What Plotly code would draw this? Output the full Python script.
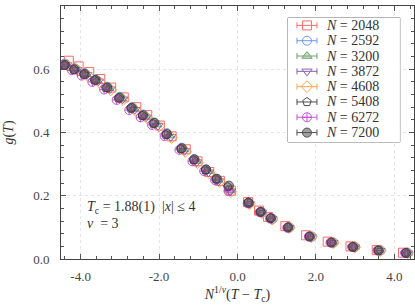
import plotly.graph_objects as go

# ---------------- data ----------------
labels = ["2048", "2592", "3200", "3872", "4608", "5408", "6272", "7200"]

x_2048 = [-4.30, -4.05, -3.78, -3.50, -3.22, -2.90, -2.58, -2.30, -1.98, -1.68, -1.32, -1.02, -0.72, -0.45, -0.17, 0.27, 0.55, 0.78, 1.22, 1.75, 2.30, 2.88, 3.55, 4.22]
y_2048 = [0.627, 0.609, 0.591, 0.569, 0.542, 0.511, 0.480, 0.455, 0.422, 0.388, 0.347, 0.309, 0.275, 0.247, 0.216, 0.180, 0.153, 0.133, 0.104, 0.075, 0.055, 0.040, 0.028, 0.020]

x_2592 = [-4.40, -4.15, -3.90, -3.62, -3.33, -3.00, -2.68, -2.40, -2.12, -1.80, -1.42, -1.10, -0.80, -0.52, -0.22, 0.30, 0.63, 0.90, 1.33, 1.90, 2.45, 3.00, 3.65, 4.35]
y_2592 = [0.618, 0.603, 0.588, 0.568, 0.545, 0.513, 0.480, 0.457, 0.432, 0.398, 0.352, 0.316, 0.283, 0.252, 0.219, 0.177, 0.148, 0.127, 0.100, 0.071, 0.052, 0.038, 0.027, 0.019]

x_3200 = [-4.38, -4.12, -3.86, -3.58, -3.28, -2.96, -2.64, -2.35, -2.06, -1.74, -1.38, -1.06, -0.76, -0.50, -0.19, 0.29, 0.60, 0.86, 1.30, 1.86, 2.42, 2.97, 3.62, 4.32]
y_3200 = [0.615, 0.600, 0.584, 0.565, 0.540, 0.508, 0.476, 0.452, 0.425, 0.390, 0.346, 0.310, 0.278, 0.250, 0.217, 0.176, 0.148, 0.128, 0.100, 0.071, 0.052, 0.038, 0.027, 0.019]

x_3872 = [-4.35, -4.10, -3.84, -3.55, -3.25, -2.93, -2.62, -2.33, -2.03, -1.70, -1.35, -1.04, -0.74, -0.48, -0.18, 0.30, 0.61, 0.87, 1.31, 1.87, 2.43, 2.98, 3.63, 4.33]
y_3872 = [0.613, 0.598, 0.582, 0.562, 0.537, 0.505, 0.472, 0.448, 0.421, 0.386, 0.342, 0.306, 0.274, 0.246, 0.214, 0.174, 0.146, 0.126, 0.098, 0.069, 0.051, 0.037, 0.026, 0.018]

x_4608 = [-4.33, -4.08, -3.82, -3.53, -3.23, -2.92, -2.60, -2.31, -2.00, -1.68, -1.33, -1.02, -0.72, -0.46, -0.17, 0.31, 0.62, 0.88, 1.32, 1.88, 2.44, 2.99, 3.64, 4.34]
y_4608 = [0.612, 0.597, 0.580, 0.560, 0.535, 0.504, 0.470, 0.447, 0.420, 0.384, 0.340, 0.304, 0.272, 0.245, 0.213, 0.175, 0.146, 0.126, 0.099, 0.070, 0.051, 0.037, 0.026, 0.019]

x_5408 = [-4.42, -4.18, -3.92, -3.65, -3.36, -3.04, -2.72, -2.43, -2.15, -1.83, -1.45, -1.12, -0.82, -0.55, -0.25, 0.27, 0.58, 0.84, 1.28, 1.83, 2.38, 2.93, 3.58, 4.28]
y_5408 = [0.612, 0.598, 0.583, 0.565, 0.541, 0.508, 0.476, 0.453, 0.428, 0.393, 0.348, 0.313, 0.281, 0.252, 0.228, 0.180, 0.150, 0.130, 0.101, 0.072, 0.053, 0.039, 0.028, 0.020]

x_6272 = [-4.46, -4.22, -3.97, -3.70, -3.40, -3.08, -2.76, -2.47, -2.18, -1.86, -1.48, -1.15, -0.85, -0.57, -0.23, 0.26, 0.57, 0.83, 1.27, 1.82, 2.37, 2.92, 3.57, 4.27]
y_6272 = [0.614, 0.597, 0.580, 0.560, 0.536, 0.503, 0.471, 0.448, 0.424, 0.389, 0.345, 0.309, 0.278, 0.249, 0.215, 0.176, 0.148, 0.128, 0.099, 0.071, 0.052, 0.038, 0.027, 0.019]

x_7200 = [-4.40, -4.16, -3.90, -3.62, -3.32, -3.01, -2.70, -2.41, -2.12, -1.80, -1.42, -1.10, -0.80, -0.53, -0.22, 0.28, 0.59, 0.85, 1.29, 1.84, 2.40, 2.95, 3.60, 4.30]
y_7200 = [0.614, 0.600, 0.585, 0.566, 0.542, 0.510, 0.478, 0.454, 0.430, 0.395, 0.350, 0.315, 0.283, 0.254, 0.232, 0.178, 0.149, 0.129, 0.100, 0.071, 0.052, 0.038, 0.027, 0.019]

xs = [x_2048, x_2592, x_3200, x_3872, x_4608, x_5408, x_6272, x_7200]
ys = [y_2048, y_2592, y_3200, y_3872, y_4608, y_5408, y_6272, y_7200]

x_tickvals = [-4.0, -2.0, 0.0, 2.0, 4.0]
x_ticktext = ["-4.0", "-2.0", "0.0", "2.0", "4.0"]
y_tickvals = [0.0, 0.2, 0.4, 0.6, 0.8]
y_ticktext = ["0.0", "0.2", "0.4", "0.6", "0.8"]

# ---------------- styles ----------------
styles = [
    dict(symbol="square-open", color="#ff5a5a", fill=None),
    dict(symbol="circle-open", color="#5b8ff0", fill=None),
    dict(symbol="triangle-up", color="#5f9a5f", fill="rgba(95,154,95,0.35)"),
    dict(symbol="triangle-down-open", color="#7a4fb0", fill=None),
    dict(symbol="diamond-open", color="#ff9a3a", fill=None),
    dict(symbol="pentagon-open", color="#3a3a3a", fill=None),
    dict(symbol="circle-cross-open", color="#c043d0", fill=None),
    dict(symbol="circle", color="#3a3a3a", fill="rgba(70,70,70,0.55)"),
]

FONT = "Liberation Serif"
TXT = "#333"

# legend box geometry (paper coords) and internal pixel-like units
LEG_X0, LEG_X1 = 0.643, 0.960
LEG_Y0, LEG_Y1 = 0.4625, 0.953
LEG_W, LEG_H = 112, 124
leg_row_y = [7.5 + 15.3 * i for i in range(8)]
LEG_MARK_X = 19
LEG_TEXT_X = 36

fig = go.Figure()
for i, (lab, x, y, st) in enumerate(zip(labels, xs, ys, styles)):
    marker = dict(symbol=st["symbol"], size=9, line=dict(color=st["color"], width=1),
                  color=st["color"] if st["fill"] is None else st["fill"])
    fig.add_trace(go.Scatter(
        x=x, y=y, mode="markers", name="N = " + lab,
        marker=marker, opacity=0.9, showlegend=False,
    ))
    # legend sample (marker with error whiskers) inside the legend box
    fig.add_trace(go.Scatter(
        x=[LEG_MARK_X], y=[leg_row_y[i]], mode="markers", xaxis="x2", yaxis="y2",
        marker=marker, opacity=0.9, showlegend=False, hoverinfo="skip",
        error_x=dict(type="constant", value=10, color=st["color"], thickness=1, width=3),
    ))

axis_common = dict(
    showline=True, linecolor="#444", linewidth=1, mirror="allticks",
    ticks="inside", ticklen=5, tickcolor="#555",
    showgrid=True, gridcolor="#e4e4e4", griddash="dot", gridwidth=1,
    zeroline=False, automargin=False,
    tickfont=dict(family=FONT, size=13, color="#444"),
)

annotations = [
    dict(x=0.068, y=0.205, xref="paper", yref="paper", xanchor="left", yanchor="middle",
         showarrow=False, font=dict(family=FONT, size=14, color=TXT),
         text="<i>T</i><sub>c</sub> = 1.88(1)  |<i>x</i>| ≤ 4"),
    dict(x=0.068, y=0.142, xref="paper", yref="paper", xanchor="left", yanchor="middle",
         showarrow=False, font=dict(family=FONT, size=14, color=TXT),
         text="<i>ν</i>  = 3"),
]
for i, lab in enumerate(labels):
    annotations.append(dict(
        x=LEG_TEXT_X, y=leg_row_y[i], xref="x2", yref="y2", xanchor="left", yanchor="middle",
        showarrow=False, font=dict(family=FONT, size=14, color=TXT),
        text="<i>N</i> = " + lab))

fig.update_layout(
    width=415, height=306,
    margin=dict(l=61, r=1, t=6, b=47, autoexpand=False),
    paper_bgcolor="white", plot_bgcolor="white",
    font=dict(family=FONT, size=13, color=TXT),
    showlegend=False,
    xaxis=dict(
        range=[-4.5, 4.5], tickvals=x_tickvals, ticktext=x_ticktext, ticklabelstandoff=5,
        minor=dict(dtick=0.4, tick0=0, ticks="inside", ticklen=3, tickcolor="#555", showgrid=False),
        title=dict(text="<i>N</i><sup>1/<i>ν</i></sup>(<i>T</i> − <i>T</i><sub>c</sub>)",
                   font=dict(family=FONT, size=14, color=TXT), standoff=6),
        **axis_common,
    ),
    yaxis=dict(
        range=[0, 0.8], tickvals=y_tickvals, ticktext=y_ticktext, ticklabelstandoff=8,
        minor=dict(dtick=0.04, tick0=0, ticks="inside", ticklen=3, tickcolor="#555", showgrid=False),
        title=dict(text="<i>g</i>(<i>T</i>)", font=dict(family=FONT, size=14, color=TXT), standoff=16),
        **axis_common,
    ),
    xaxis2=dict(domain=[LEG_X0, LEG_X1], range=[0, LEG_W], anchor="y2", visible=False,
                fixedrange=True, automargin=False),
    yaxis2=dict(domain=[LEG_Y0, LEG_Y1], range=[LEG_H, 0], anchor="x2", visible=False,
                fixedrange=True, automargin=False),
    shapes=[dict(type="rect", xref="paper", yref="paper", x0=LEG_X0, x1=LEG_X1,
                 y0=LEG_Y0, y1=LEG_Y1, line=dict(color="#777", width=1),
                 fillcolor="white", layer="below")],
    annotations=annotations,
)

fig.write_html("out.html", config={"displayModeBar": False},
               post_script="document.body.style.margin='0';document.body.style.padding='0';")
